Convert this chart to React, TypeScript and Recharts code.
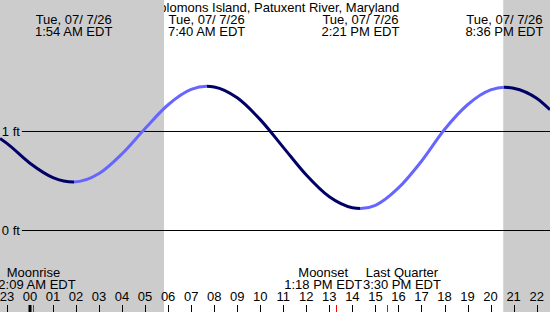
import React from 'react';
import { ComposedChart, Line, XAxis, YAxis, ReferenceArea, ReferenceLine } from 'recharts';

const TITLE = 'Solomons Island, Patuxent River, Maryland';

// tide height (ft)
const HOURS = [-1.3, -1, 0, 1, 1.9, 3, 4, 5, 6, 7, 7.67, 8, 9, 10, 11, 12, 13, 14, 14.35, 15, 16, 17, 18, 19, 20, 20.6, 21, 22, 22.58];
const LEVEL_FT = [0.93, 0.88, 0.68, 0.535, 0.49, 0.575, 0.775, 1.03, 1.27, 1.425, 1.457, 1.45, 1.34, 1.12, 0.84, 0.56, 0.34, 0.23, 0.222, 0.255, 0.43, 0.7, 1.02, 1.27, 1.42, 1.447, 1.437, 1.335, 1.22];

const TIDE_HOURS = [1.9, 7.67, 14.35, 20.6];
const TIDE_KIND = ['low', 'high', 'low', 'high'];
const TIDE_DATE = ['Tue, 07/ 7/26', 'Tue, 07/ 7/26', 'Tue, 07/ 7/26', 'Tue, 07/ 7/26'];
const TIDE_TIME = ['1:54 AM EDT', '7:40 AM EDT', '2:21 PM EDT', '8:36 PM EDT'];

const MOON_HOURS = [0.15, 13.3, 15.5];
const MOON_NAME = ['Moonrise', 'Moonset', 'Last Quarter'];
const MOON_TIME = ['12:09 AM EDT', '1:18 PM EDT', '3:30 PM EDT'];

const HOUR_TICKS = [-1, 0, 1, 2, 3, 4, 5, 6, 7, 8, 9, 10, 11, 12, 13, 14, 15, 16, 17, 18, 19, 20, 21, 22];
const DATUM_FT = [1, 0];

const SUNRISE = 5.82;
const SUNSET = 20.55;

const X_DOMAIN: [number, number] = [-1.3, 22.58];
const Y_DOMAIN: [number, number] = [-0.823, 2.328];

// label nudges so the moon texts don't collide (px)
const MOON_NUDGE = [0, -13, 15];

const FONT = '"Liberation Sans", Arial, sans-serif';
const FS = 13;
const DARK = '#000066';
const LIGHT = '#6666ff';
const NIGHT = '#cccccc';

const data = HOURS.map((h, i) => ({ h, ft: LEVEL_FT[i] }));

// hard colour stops: falling = dark, rising = light
const span = HOURS[HOURS.length - 1] - HOURS[0];
const stops: { off: number; color: string }[] = [];
TIDE_HOURS.forEach((h, i) => {
    const off = (h - HOURS[0]) / span;
    const before = TIDE_KIND[i] === 'low' ? DARK : LIGHT;
    const after = TIDE_KIND[i] === 'low' ? LIGHT : DARK;
    stops.push({ off, color: before }, { off, color: after });
});
const firstColor = TIDE_KIND[0] === 'low' ? DARK : LIGHT;
const lastColor = TIDE_KIND[TIDE_KIND.length - 1] === 'low' ? LIGHT : DARK;

const hourLabel = (h: number) => String((h + 24) % 24).padStart(2, '0');

const HourTick = (props: any) => {
    const { x, payload } = props;
    const y = 312;
    const v = payload.value;
    const px = Math.round(x);
    return (
        <g>
            <text x={x} y={y - 11} textAnchor="middle" fontSize={FS} fontFamily={FONT} fill="#000">
                {hourLabel(v)}
            </text>
            {v === 0
                ? <line x1={px} x2={px} y1={y - 7} y2={y} stroke="#000" strokeWidth={3} />
                : <line x1={px + 0.5} x2={px + 0.5} y1={y - 7} y2={y} stroke="#000" strokeWidth={1} />}
        </g>
    );
};

const MoonTick = (props: any) => {
    const { x, payload } = props;
    const y = 312;
    const i = MOON_HOURS.indexOf(payload.value);
    const px = Math.round(x) + 0.5;
    const lx = x + MOON_NUDGE[i];
    return (
        <g>
            <line x1={px} x2={px} y1={y - 7} y2={y} stroke="#ff0000" strokeWidth={1} />
            <text x={lx} y={y - 35} textAnchor="middle" fontSize={FS} fontFamily={FONT} fill="#000">{MOON_NAME[i]}</text>
            <text x={lx} y={y - 23} textAnchor="middle" fontSize={FS} fontFamily={FONT} fill="#000">{MOON_TIME[i]}</text>
        </g>
    );
};

const TideTick = (props: any) => {
    const { x, payload } = props;
    const i = TIDE_HOURS.indexOf(payload.value);
    return (
        <g>
            <text x={x} y={24} textAnchor="middle" fontSize={FS} fontFamily={FONT} fill="#000">{TIDE_DATE[i]}</text>
            <text x={x} y={36} textAnchor="middle" fontSize={FS} fontFamily={FONT} fill="#000">{TIDE_TIME[i]}</text>
        </g>
    );
};

export default function App() {
    return (
        <div style={{ position: 'absolute', left: 0, top: 0, width: 550, height: 312, background: '#fff' }}>
            <svg width={0} height={0} style={{ position: 'absolute' }}>
                <defs>
                    <linearGradient id="tideStroke" x1="0" y1="0" x2="1" y2="0">
                        <stop offset={0} stopColor={firstColor} />
                        {stops.map((s, i) => (
                            <stop key={i} offset={s.off} stopColor={s.color} />
                        ))}
                        <stop offset={1} stopColor={lastColor} />
                    </linearGradient>
                </defs>
            </svg>
            <ComposedChart width={550} height={312} data={data} margin={{ top: 0, right: 0, bottom: 0, left: 0 }}>
                <XAxis dataKey="h" type="number" domain={X_DOMAIN} allowDataOverflow ticks={HOUR_TICKS}
                    mirror interval={0} height={1} axisLine={false} tickLine={false} tickSize={0} tickMargin={0}
                    tick={<HourTick />} />
                <XAxis xAxisId="moon" dataKey="h" type="number" domain={X_DOMAIN} allowDataOverflow ticks={MOON_HOURS}
                    mirror interval={0} height={1} axisLine={false} tickLine={false} tickSize={0} tickMargin={0}
                    tick={<MoonTick />} />
                <XAxis xAxisId="tide" orientation="top" dataKey="h" type="number" domain={X_DOMAIN} allowDataOverflow
                    mirror ticks={TIDE_HOURS} interval={0} height={1} axisLine={false} tickLine={false} tickSize={0}
                    tickMargin={0} tick={<TideTick />} />
                <YAxis hide type="number" domain={Y_DOMAIN} allowDataOverflow />
                <ReferenceArea x1={X_DOMAIN[0]} x2={SUNRISE} fill={NIGHT} fillOpacity={1} stroke="none" ifOverflow="visible" />
                <ReferenceArea x1={SUNSET} x2={X_DOMAIN[1]} fill={NIGHT} fillOpacity={1} stroke="none" ifOverflow="visible" />
                {DATUM_FT.map((ft) => (
                    <ReferenceLine key={ft}
                        segment={[{ x: -0.35, y: ft }, { x: X_DOMAIN[1], y: ft }]}
                        stroke="#000" strokeWidth={1} ifOverflow="visible"
                        label={{ value: `${ft} ft`, position: 'left', offset: 2, fill: '#000', fontSize: FS, fontFamily: FONT }} />
                ))}
                <Line dataKey="ft" type="monotone" stroke="url(#tideStroke)" strokeWidth={3} dot={false}
                    activeDot={false} isAnimationActive={false} />
                <text x={275} y={12} textAnchor="middle" fontSize={FS} fontFamily={FONT} fill="#000">{TITLE}</text>
            </ComposedChart>
        </div>
    );
}
